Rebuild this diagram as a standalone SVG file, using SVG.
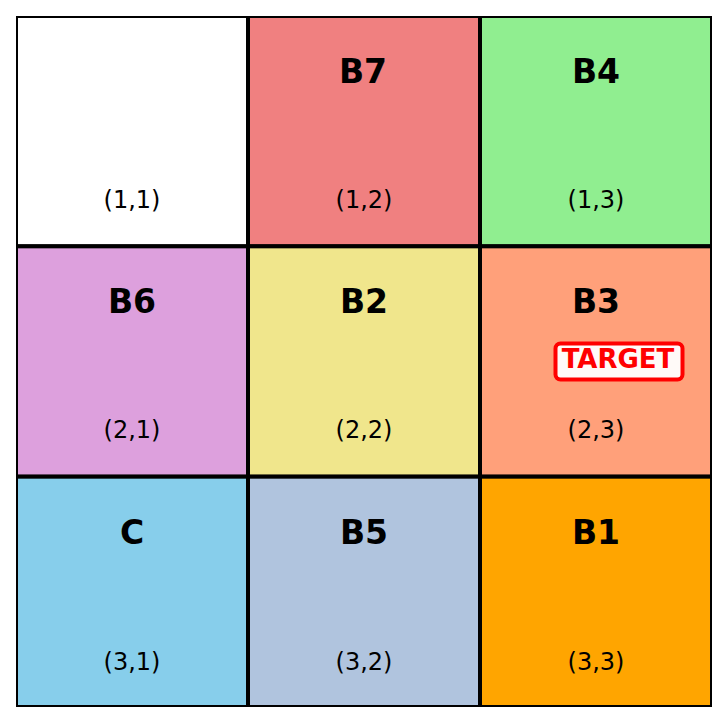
<svg xmlns="http://www.w3.org/2000/svg" width="727" height="723" viewBox="0 0 727 723">
<style>
.cell{stroke:#000;stroke-width:4}
.lbl{font-family:"DejaVu Sans",sans-serif;font-weight:bold;font-size:33px;text-anchor:middle;fill:#000}
.crd{font-family:"DejaVu Sans",sans-serif;font-size:24px;text-anchor:middle;fill:#000}
.tgt{font-family:"DejaVu Sans",sans-serif;font-weight:bold;font-size:26px;text-anchor:middle;fill:#ff0000}
</style>
<defs><clipPath id="ax"><rect x="16" y="16" width="696" height="691"/></clipPath></defs>
<rect width="727" height="723" fill="#fff"/>
<g clip-path="url(#ax)">
<g id="c11"><rect class="cell" x="16" y="16" width="232" height="230.33" fill="#ffffff"/><text class="crd" x="132" y="207.5">(1,1)</text></g>
<g id="c12"><rect class="cell" x="248" y="16" width="232" height="230.33" fill="#F08080"/><text class="lbl" x="363" y="82.7">B7</text><text class="crd" x="364" y="207.5">(1,2)</text></g>
<g id="c13"><rect class="cell" x="480" y="16" width="232" height="230.33" fill="#90EE90"/><text class="lbl" x="596" y="82.7">B4</text><text class="crd" x="596" y="207.5">(1,3)</text></g>
<g id="c21"><rect class="cell" x="16" y="246.33" width="232" height="230.33" fill="#DDA0DD"/><text class="lbl" x="132" y="313.3">B6</text><text class="crd" x="132" y="438">(2,1)</text></g>
<g id="c22"><rect class="cell" x="248" y="246.33" width="232" height="230.33" fill="#F0E68C"/><text class="lbl" x="364" y="313.3">B2</text><text class="crd" x="364" y="438">(2,2)</text></g>
<g id="c23"><rect class="cell" x="480" y="246.33" width="232" height="230.33" fill="#FFA07A"/><text class="lbl" x="596" y="313.3">B3</text><text class="crd" x="596" y="438">(2,3)</text>
<rect x="555.5" y="343.5" width="127" height="36" rx="5" ry="5" fill="#ffffff" fill-opacity="0.95" stroke="#ff0000" stroke-width="4"/><text class="tgt" x="618" y="368">TARGET</text></g>
<g id="c31"><rect class="cell" x="16" y="476.67" width="232" height="230.33" fill="#87CEEB"/><text class="lbl" x="132" y="544">C</text><text class="crd" x="132" y="669.5">(3,1)</text></g>
<g id="c32"><rect class="cell" x="248" y="476.67" width="232" height="230.33" fill="#B0C4DE"/><text class="lbl" x="364" y="544">B5</text><text class="crd" x="364" y="669.5">(3,2)</text></g>
<g id="c33"><rect class="cell" x="480" y="476.67" width="232" height="230.33" fill="#FFA500"/><text class="lbl" x="596" y="544">B1</text><text class="crd" x="596" y="669.5">(3,3)</text></g>
</g>
<g id="connectors"></g>
</svg>
